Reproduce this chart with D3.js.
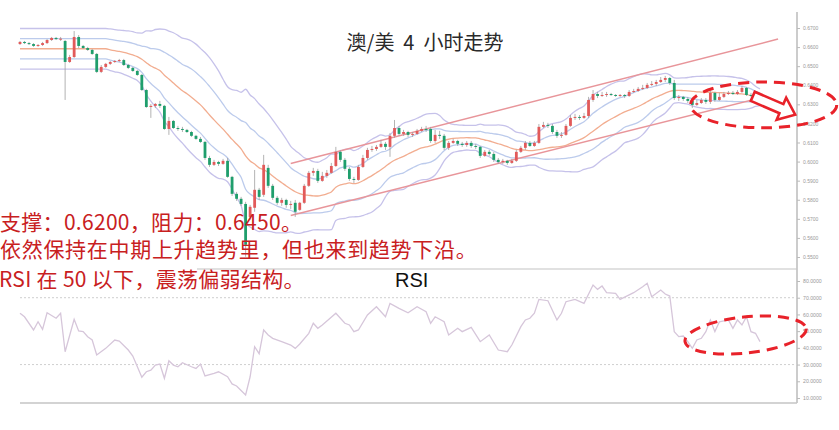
<!DOCTYPE html>
<html><head><meta charset="utf-8">
<script src="https://cdn.jsdelivr.net/npm/d3@7"></script>
<style>body{margin:0;background:#fff}svg{display:block}</style>
</head><body>
<svg id="c" width="839" height="430"></svg>
<script>
// ---- data (AUD/USD 4H) ----
const openP = [.6616,.6627,.6621,.6616,.6606,.6611,.6621,.6637,.6648,.6642,
 .6632,.6522,.6548,.6653,.6606,.6595,.6585,.6564,.6470,.6496,
 .6512,.6522,.6527,.6532,.6506,.6491,.6475,.6454,.6375,.6286,
 .6292,.6302,.6292,.6171,.6213,.6176,.6171,.6166,.6155,.6135,
 .6119,.6103,.6019,.5983,.5998,.5988,.6004,.5920,.5831,.5805,
 .5778,.5710,.5758,.5852,.5826,.5967,.5873,.5810,.5784,.5799,
 .5773,.5784,.5747,.5784,.5873,.5941,.5951,.5899,.5925,.5941,
 .5977,.6051,.6009,.5962,.5909,.5904,.5972,.6019,.6061,.6066,
 .6077,.6093,.6077,.6135,.6176,.6145,.6155,.6140,.6145,.6161,
 .6171,.6171,.6108,.6140,.6135,.6072,.6098,.6108,.6093,.6087,
 .6098,.6082,.6077,.6030,.6051,.6040,.6009,.5998,.6004,.5993,
 .6004,.6051,.6072,.6098,.6082,.6098,.6182,.6192,.6187,.6155,
 .6135,.6140,.6187,.6229,.6234,.6229,.6239,.6323,.6354,.6344,
 .6349,.6354,.6349,.6344,.6349,.6344,.6365,.6370,.6381,.6386,
 .6402,.6407,.6417,.6428,.6438,.6412,.6333,.6339,.6328,.6318,
 .6297,.6307,.6323,.6313,.6360,.6323,.6339,.6354,.6360,.6354,
 .6365,.6386,.6349,.6344,.6339];
const closeP = [.6627,.6621,.6616,.6606,.6611,.6621,.6637,.6648,.6642,.6644,
 .6522,.6548,.6653,.6606,.6595,.6585,.6564,.6470,.6496,.6512,
 .6522,.6527,.6532,.6506,.6491,.6475,.6454,.6375,.6286,.6292,
 .6302,.6292,.6171,.6213,.6176,.6171,.6166,.6155,.6135,.6119,
 .6103,.6019,.5983,.5998,.5988,.6004,.5920,.5831,.5805,.5778,
 .5564,.5763,.5852,.5815,.5983,.5873,.5810,.5784,.5799,.5773,
 .5778,.5737,.5784,.5873,.5941,.5951,.5899,.5925,.5941,.5977,
 .6051,.6009,.5962,.5909,.5904,.5972,.6019,.6061,.6066,.6077,
 .6093,.6077,.6135,.6176,.6145,.6155,.6140,.6145,.6161,.6171,
 .6166,.6108,.6140,.6135,.6072,.6098,.6108,.6093,.6087,.6098,
 .6082,.6077,.6030,.6051,.6040,.6009,.5998,.6004,.5993,.6004,
 .6051,.6072,.6098,.6082,.6098,.6182,.6192,.6187,.6155,.6135,
 .6140,.6187,.6229,.6234,.6229,.6239,.6323,.6354,.6344,.6349,
 .6354,.6349,.6344,.6349,.6344,.6365,.6370,.6381,.6386,.6402,
 .6407,.6417,.6428,.6438,.6412,.6333,.6339,.6328,.6318,.6297,
 .6307,.6323,.6313,.6360,.6323,.6339,.6354,.6360,.6354,.6365,
 .6386,.6349,.6344,.6339,.6313];
const highP = [.6632,.6632,.6627,.6621,.6616,.6627,.6642,.6653,.6653,.6653,
 .6637,.6559,.6684,.6663,.6611,.6601,.6590,.6569,.6506,.6517,
 .6527,.6532,.6538,.6538,.6512,.6496,.6480,.6459,.6381,.6302,
 .6307,.6318,.6297,.6234,.6218,.6187,.6182,.6171,.6161,.6140,
 .6129,.6108,.6030,.6009,.6004,.6014,.6019,.5925,.5841,.5815,
 .5789,.5773,.5956,.5862,.6035,.5983,.5883,.5820,.5810,.5805,
 .5794,.5799,.5789,.5883,.5951,.5967,.5962,.5946,.5956,.5993,
 .6077,.6061,.6019,.5972,.5920,.5983,.6035,.6072,.6082,.6087,
 .6114,.6103,.6150,.6218,.6187,.6166,.6161,.6155,.6171,.6182,
 .6187,.6182,.6166,.6161,.6145,.6108,.6119,.6114,.6103,.6108,
 .6108,.6093,.6082,.6061,.6061,.6051,.6019,.6014,.6009,.6014,
 .6061,.6082,.6108,.6108,.6108,.6197,.6208,.6203,.6197,.6166,
 .6155,.6197,.6244,.6250,.6244,.6255,.6339,.6375,.6365,.6365,
 .6365,.6360,.6354,.6354,.6354,.6375,.6381,.6391,.6402,.6412,
 .6422,.6428,.6443,.6449,.6443,.6428,.6349,.6344,.6339,.6323,
 .6323,.6333,.6333,.6370,.6365,.6360,.6365,.6370,.6370,.6375,
 .6396,.6391,.6360,.6354,.6344];
const lowP = [.6611,.6616,.6611,.6601,.6601,.6606,.6616,.6632,.6637,.6632,
 .6323,.6517,.6543,.6595,.6590,.6580,.6559,.6464,.6464,.6491,
 .6506,.6517,.6522,.6501,.6485,.6470,.6449,.6370,.6281,.6229,
 .6281,.6281,.6166,.6140,.6171,.6161,.6155,.6150,.6129,.6114,
 .6098,.6009,.5972,.5977,.5977,.5983,.5915,.5820,.5794,.5768,
 .5501,.5695,.5737,.5799,.5815,.5862,.5799,.5773,.5768,.5758,
 .5752,.5710,.5742,.5778,.5867,.5925,.5888,.5894,.5915,.5936,
 .5972,.5998,.5951,.5899,.5888,.5899,.5967,.6009,.6051,.6056,
 .6072,.6061,.6025,.6124,.6135,.6135,.6129,.6129,.6140,.6155,
 .6155,.6098,.6098,.6119,.6061,.6061,.6093,.6082,.6077,.6077,
 .6072,.6066,.6019,.6025,.6030,.5998,.5988,.5988,.5983,.5988,
 .5998,.6045,.6061,.6077,.6077,.6093,.6176,.6176,.6145,.6124,
 .6124,.6135,.6182,.6218,.6218,.6224,.6229,.6313,.6333,.6339,
 .6339,.6344,.6339,.6339,.6333,.6339,.6360,.6365,.6375,.6381,
 .6396,.6396,.6412,.6417,.6402,.6323,.6318,.6318,.6307,.6281,
 .6292,.6302,.6302,.6302,.6313,.6318,.6333,.6349,.6349,.6349,
 .6360,.6344,.6339,.6328,.6307];

// RSI readings: candle index and value
const rsiIdx = [0,1,3,4,5,6,8,9,10,12,13,14,15,16,17,19,21,22,24,25,27,28,29,30,31,32,33,34,35,36,38,39,40,41,43,44,46,47,48,49,50,51,52,53,54,55,56,58,60,61,62,64,65,66,67,70,72,73,74,75,77,79,81,82,84,86,88,90,91,92,94,95,97,98,100,102,104,106,108,109,111,112,113,114,115,117,119,120,121,123,125,127,128,129,130,132,133,136,138,139,140,142,143,144,145,146,147,148,149,150,151,152,153,154,155,157,158,159,160,161,162,163,164];
const rsiVal = [60.7,58.6,50.7,55.6,51.1,61.0,57.7,60.7,37.7,57.1,50.1,49.7,46.7,44.7,35.7,39.7,44.7,44.1,38.7,35.1,22.4,25.7,26.7,29.7,30.3,21.8,32.3,29.7,28.7,31.1,28.7,27.7,30.3,23.2,24.8,25.7,22.7,18.4,17.2,14.5,11.8,22.7,40.7,36.5,50.7,47.7,45.7,43.7,41.7,39.7,42.3,48.7,54.7,51.7,53.7,60.7,54.7,53.7,49.7,50.7,59.7,64.6,58.6,66.6,63.6,61.0,64.6,61.6,54.7,58.6,55.6,47.7,51.7,49.7,52.3,43.7,47.7,38.7,37.7,41.7,52.7,56.7,57.7,60.7,69.0,68.2,56.7,60.7,67.6,69.0,66.6,77.6,75.0,77.0,73.0,72.6,69.0,73.0,76.6,78.6,70.6,74.6,72.2,71.0,49.7,46.7,47.1,43.7,39.7,44.7,45.7,49.7,56.7,49.7,55.6,56.7,51.7,56.7,53.7,58.6,49.7,48.7,43.7];

const priceTicks = [0.55,0.56,0.57,0.58,0.59,0.60,0.61,0.62,0.63,0.64,0.65,0.66,0.67];
const rsiTicks = [10,20,30,40,50,60,70,80];
const rsiGuides = [70,30];
// trend channel: [candle index, price]
const channelUpper = [[60,0.5990],[168,0.6642]];
const channelLower = [[60,0.5718],[165,0.6339]];

const titleText = "澳/美\u00a0\u00a04\u00a0\u00a0小时走势";
const notes = ["支撑：0.6200，阻力：0.6450。","依然保持在中期上升趋势里，但也来到趋势下沿。","RSI 在 50 以下，震荡偏弱结构。"];
const rsiLabel = "RSI";

// ---- drawing ----
const svg = d3.select("#c");
const N = closeP.length;
const x = d3.scaleLinear().domain([0, N-1]).range([20, 760]);
const y = d3.scaleLinear().domain([0.55, 0.67]).range([257, 28]);
const yr = d3.scaleLinear().domain([10, 80]).range([398, 281]);
const AX = 797;

// Bollinger bands (20)
const mid = [], sd = [];
for (let i = 0; i < N; i++) {
  const s = Math.max(0, i - 19);
  const w = closeP.slice(s, s + 20);
  const m = d3.mean(w);
  mid.push(m);
  sd.push(Math.sqrt(d3.mean(w, v => (v - m) * (v - m))));
}
const bandLine = (k) => d3.line().x((d, i) => x(i)).y((d, i) => y(mid[i] + k * sd[i])).curve(d3.curveMonotoneX);
const gBands = svg.append("g");
[[2, "#c6c2ea"], [1, "#bccbec"], [-1, "#bccbec"], [-2, "#c6c2ea"]].forEach(([k, col]) => {
  gBands.append("path").datum(closeP).attr("d", bandLine(k)).attr("fill", "none")
    .attr("stroke", col).attr("stroke-width", 1.3);
});
gBands.append("path").datum(closeP).attr("d", bandLine(0)).attr("fill", "none")
  .attr("stroke", "#f2ad90").attr("stroke-width", 1.3);

// channel
const chLine = d3.line().x(d => x(d[0])).y(d => y(d[1]));
[channelUpper, channelLower].forEach(c => {
  svg.append("path").datum(c).attr("d", chLine).attr("fill", "none")
    .attr("stroke", "#e8959a").attr("stroke-width", 1.5);
});

// candles
const gC = svg.append("g");
const bw = 2.8;
closeP.forEach((c, i) => {
  const o = openP[i], up = c >= o;
  const col = up ? "#e25a5a" : "#1f9e6c";
  gC.append("line").attr("x1", x(i)).attr("x2", x(i)).attr("y1", y(highP[i])).attr("y2", y(lowP[i]))
    .attr("stroke", "#a0a0a0").attr("stroke-width", 0.8);
  const y1 = y(Math.max(o, c)), y2 = y(Math.min(o, c));
  gC.append("rect").attr("x", x(i) - bw / 2).attr("y", y1).attr("width", bw)
    .attr("height", Math.max(1, y2 - y1)).attr("fill", col);
});

// right axis line
svg.append("line").attr("x1", AX).attr("x2", AX).attr("y1", 12).attr("y2", 403)
  .attr("stroke", "#999").attr("stroke-width", 1);
const pAxis = svg.append("g").attr("transform", `translate(${AX},0)`)
  .call(d3.axisRight(y).tickValues(priceTicks).tickFormat(d3.format(".4f")).tickSize(3).tickPadding(3));
pAxis.select(".domain").remove();
pAxis.selectAll("line").attr("stroke", "#bbb");
pAxis.selectAll("text").attr("font-size", 5).attr("fill", "#999").attr("font-family", "Liberation Sans, Arial");

// RSI panel
svg.append("line").attr("x1", 197).attr("x2", AX).attr("y1", 269).attr("y2", 269)
  .attr("stroke", "#c4c4c4").attr("stroke-width", 1.2);
svg.append("line").attr("x1", 20).attr("x2", AX).attr("y1", 403).attr("y2", 403)
  .attr("stroke", "#c4c4c4").attr("stroke-width", 1.5);
rsiGuides.forEach(v => {
  svg.append("line").attr("x1", 20).attr("x2", AX).attr("y1", yr(v)).attr("y2", yr(v))
    .attr("stroke", "#cfcfcf").attr("stroke-width", 1).attr("stroke-dasharray", "2,2");
});
const rAxis = svg.append("g").attr("transform", `translate(${AX},0)`)
  .call(d3.axisRight(yr).tickValues(rsiTicks).tickFormat(d3.format(".4f")).tickSize(3).tickPadding(3));
rAxis.select(".domain").remove();
rAxis.selectAll("line").attr("stroke", "#bbb");
rAxis.selectAll("text").attr("font-size", 5.2).attr("fill", "#999").attr("font-family", "Liberation Sans, Arial");

svg.append("path").datum(rsiIdx.map((d, i) => [d, rsiVal[i]]))
  .attr("d", d3.line().x(d => x(d[0])).y(d => yr(d[1])))
  .attr("fill", "none").attr("stroke", "#d6c6da").attr("stroke-width", 1.3);

// title & labels
svg.append("text").attr("x", 425).attr("y", 50).attr("text-anchor", "middle")
  .attr("font-family", "Noto Sans CJK SC").attr("font-size", 20).attr("fill", "#2a2a2a").text(titleText);
svg.append("text").attr("x", 395).attr("y", 287)
  .attr("font-family", "Liberation Sans, Arial").attr("font-size", 20).attr("fill", "#111").text(rsiLabel);

const noteY = [230, 257, 287];
notes.forEach((t, i) => {
  svg.append("text").attr("x", i === 2 ? -1 : 0).attr("y", noteY[i])
    .attr("font-family", "Noto Sans CJK SC").attr("font-size", 21).attr("fill", "#c8201e")
    .attr("letter-spacing", i === 1 ? 0.7 : 0.3)
    .attr("xml:space", "preserve").style("white-space", "pre").text(t);
});

// annotations (data-space anchored)
const red = "#e8222a";
const ecx = x(164.8), ecy = y(0.6297);
svg.append("ellipse").attr("cx", ecx).attr("cy", ecy)
  .attr("rx", x(16.2) - x(0)).attr("ry", y(0.55) - y(0.562))
  .attr("fill", "none").attr("stroke", red).attr("stroke-width", 3).attr("stroke-dasharray", "11,7");

// hollow block arrow
const ax0 = x(162.4), ay0 = y(0.6342), ax1 = x(171.8), ay1 = y(0.6246);
const ang = Math.atan2(ay1 - ay0, ax1 - ax0) * 180 / Math.PI;
const L = Math.hypot(ax1 - ax0, ay1 - ay0), hw = 5, hh = 12, hl = 15;
const pts = [[0, -hw], [L - hl, -hw], [L - hl, -hh], [L, 0], [L - hl, hh], [L - hl, hw], [0, hw]];
svg.append("polygon").attr("points", pts.map(p => p.join(",")).join(" "))
  .attr("transform", `translate(${ax0},${ay0}) rotate(${ang})`)
  .attr("fill", "#fff").attr("stroke", red).attr("stroke-width", 2.6).attr("stroke-linejoin", "miter");

// RSI ellipse
const rcx = x(160.8), rcy = yr(47.7);
svg.append("ellipse").attr("cx", 0).attr("cy", 0)
  .attr("rx", x(13.5) - x(0)).attr("ry", yr(10) - yr(20.8))
  .attr("transform", `translate(${rcx},${rcy}) rotate(-6)`)
  .attr("fill", "none").attr("stroke", red).attr("stroke-width", 3).attr("stroke-dasharray", "11,7");
</script>
</body></html>
